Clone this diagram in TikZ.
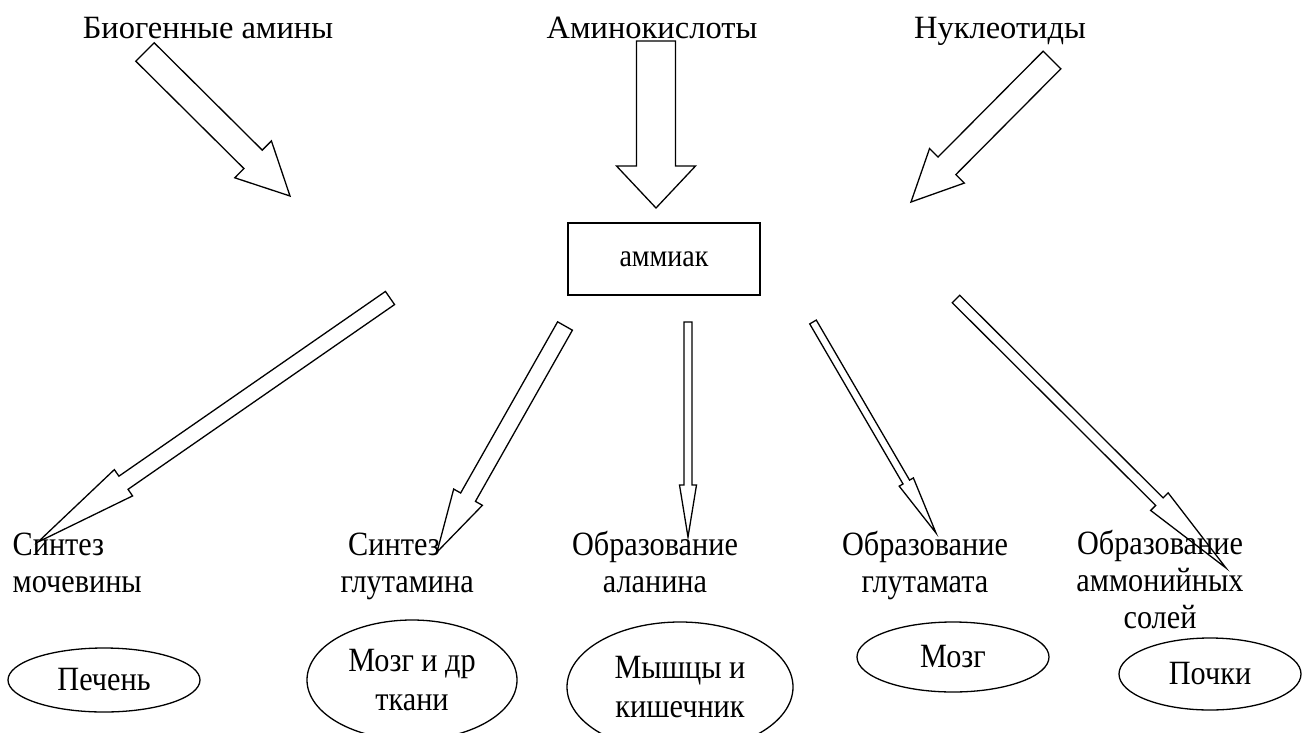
\documentclass[tikz,border=0pt]{standalone}
\usepackage{fontspec}
\setmainfont{Liberation Serif}
\newfontfamily\labelfont[FakeStretch=0.89]{Liberation Serif}
\usetikzlibrary{calc,shapes.geometric}

% hollow block arrow: name, tail, tip, shaft half width, head half width, head length
\newcommand{\fatarrow}[6]{%
  \coordinate (#1n) at ($(#3)!#6!(#2)$);
  \draw[fat] ($(#2)!#4!90:(#3)$) -- ($(#1n)!#4!90:(#3)$) -- ($(#1n)!#5!90:(#3)$)
    -- (#3) -- ($(#1n)!#5!-90:(#3)$) -- ($(#1n)!#4!-90:(#3)$) -- ($(#2)!#4!-90:(#3)$) -- cycle;
}

\begin{document}
\begin{tikzpicture}[x=1pt, y=-1pt, line width=1.3pt,
  every node/.style={font=\fontsize{32.5}{37}\selectfont, inner sep=0pt},
  fat/.style={draw, line join=miter},
  organ/.style={ellipse, draw, align=center, font=\labelfont\fontsize{34}{38.5}\selectfont},
  result/.style={align=center, anchor=base, font=\labelfont\fontsize{34}{36.8}\selectfont}]
  \useasboundingbox (0,0) rectangle (1303,733);
  % Sources
  \node[anchor=base] (amines) at (208,39) {Биогенные амины};
  \node[anchor=base] (acids)  at (652,39) {Аминокислоты};
  \node[anchor=base] (nucl)   at (1000,39) {Нуклеотиды};
  % Ammonia
  \node[draw, minimum width=192pt, minimum height=72pt, font=\labelfont\fontsize{31.5}{34}\selectfont] (nh3) at (664,259) {аммиак};
  % Ways of binding (base = last line)
  \node[result, anchor=base west, align=left] (urea) at (12,592) {Синтез\\мочевины};
  \node[result, anchor=base west, align=left] (gln)  at (340,592) {\ Синтез\\глутамина};
  \node[result] (ala)  at (655,592) {Образование\\аланина};
  \node[result] (glu)  at (925,592) {Образование\\глутамата};
  \node[result] (salt) at (1160,628) {Образование\\аммонийных\\солей};
  % Organs
  \node[organ, minimum width=192pt, minimum height=64pt]  (liver)  at (104,680) {Печень};
  \node[organ, minimum width=210pt, minimum height=120pt] (brain)  at (412,680) {Мозг и др\\ткани};
  \node[organ, minimum width=226pt, minimum height=130pt] (muscle) at (680,687) {Мышцы и\\кишечник};
  \node[organ, minimum width=192pt, minimum height=70pt]  (brainb) at (953,657) {Мозг};
  \node[organ, minimum width=182pt, minimum height=72pt]  (kidney) at (1210,674) {Почки};
  % Arrow ends
  \coordinate (aminesT) at (145,52);  \coordinate (aminesP) at (290,196);
  \coordinate (acidsT)  at (656,41);  \coordinate (acidsP)  at (656,208);
  \coordinate (nuclT)   at (1052,60); \coordinate (nuclP)   at (911,202);
  \coordinate (ureaT)   at (390,298); \coordinate (ureaP)   at (38,542);
  \coordinate (glnT)    at (565,326); \coordinate (glnP)    at (437,552);
  \coordinate (alaT)    at (688,322); \coordinate (alaP)    at (688,537);
  \coordinate (gluT)    at (813,322); \coordinate (gluP)    at (936,533);
  \coordinate (saltT)   at (956,299); \coordinate (saltP)   at (1226,568);
  % Inflow
  \fatarrow{aminesA}{aminesT}{aminesP}{13pt}{26pt}{52pt}
  \fatarrow{acidsA}{acidsT}{acidsP}{19.5pt}{39.5pt}{42pt}
  \fatarrow{nuclA}{nuclT}{nuclP}{12.5pt}{24.5pt}{51pt}
  % Outflow
  \fatarrow{ureaA}{ureaT}{ureaP}{8pt}{16pt}{104pt}
  \fatarrow{glnA}{glnT}{glnP}{8.5pt}{16.5pt}{63pt}
  \fatarrow{alaA}{alaT}{alaP}{4pt}{8.5pt}{52pt}
  \fatarrow{gluA}{gluT}{gluP}{3.8pt}{8.2pt}{59pt}
  \fatarrow{saltA}{saltT}{saltP}{5.3pt}{12.4pt}{94pt}
\end{tikzpicture}
\end{document}
